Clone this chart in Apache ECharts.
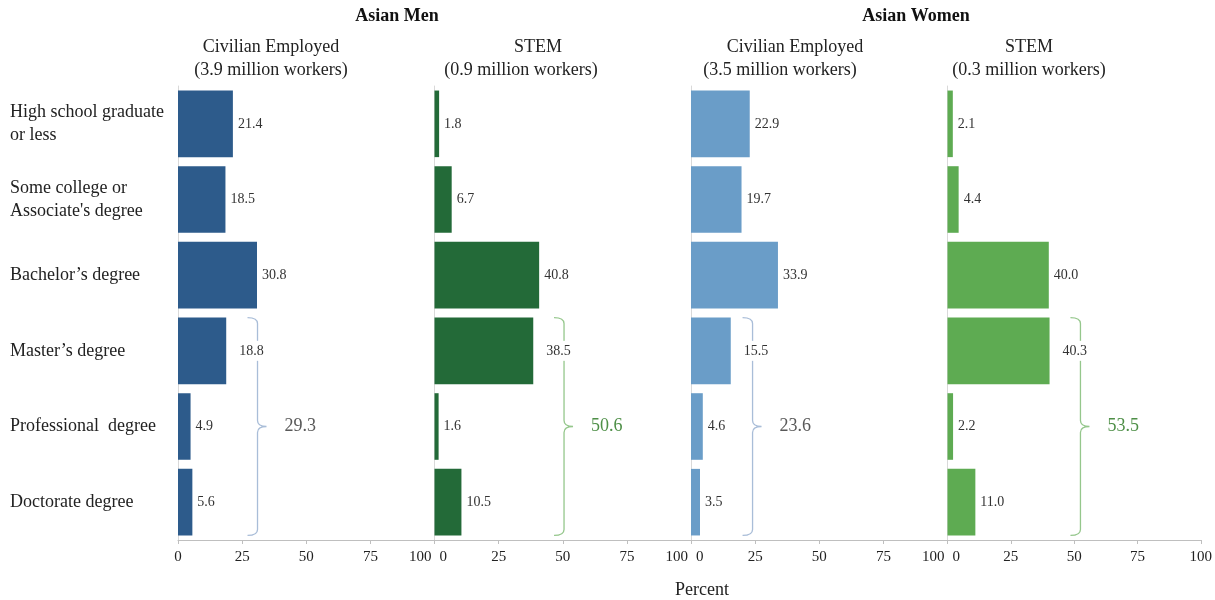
<!DOCTYPE html>
<html><head><meta charset="utf-8">
<script src="https://cdn.jsdelivr.net/npm/echarts@6/dist/echarts.min.js"></script>
<style>html,body{margin:0;padding:0;background:#fff}#c{width:1215px;height:600px}</style>
</head><body><div id="c"></div>
<script>
const categories = ["High school graduate\nor less", "Some college or\nAssociate's degree", "Bachelor’s degree", "Master’s degree", "Professional  degree", "Doctorate degree"];
const menCivilian = [21.4, 18.5, 30.8, 18.8, 4.9, 5.6];
const menStem = [1.8, 6.7, 40.8, 38.5, 1.6, 10.5];
const womenCivilian = [22.9, 19.7, 33.9, 15.5, 4.6, 3.5];
const womenStem = [2.1, 4.4, 40.0, 40.3, 2.2, 11.0];
const panelTitleLine1 = ["Civilian Employed", "STEM", "Civilian Employed", "STEM"];
const panelTitleLine2 = ["(3.9 million workers)", "(0.9 million workers)", "(3.5 million workers)", "(0.3 million workers)"];
const groupTitles = ["Asian Men", "Asian Women"];
const advancedSums = [29.3, 50.6, 23.6, 53.5];
const bracePositions = [31, 50.5, 24, 52.5];
const xTicks = [0, 25, 50, 75, 100];

(function () {
const series4 = [menCivilian, menStem, womenCivilian, womenStem];
const barColors = ['#2D5B8B', '#236A38', '#6A9DC8', '#5EAB52'];
const braceColors = ['#A9BDD8', '#95C78C', '#A9BDD8', '#95C78C'];
const sumColors = ['#595959', '#4E8F47', '#595959', '#4E8F47'];
const serif = '"Liberation Serif", "Times New Roman", serif';

const left0 = 178, pw = 256.5, gTop = 86, gh = 454;
const grids = [], xAxes = [], yAxes = [], series = [], titles = [];
for (let i = 0; i < 4; i++) {
  grids.push({left: left0 + i * pw, top: gTop, width: pw, height: gh});
  xAxes.push({
    type: 'value', gridIndex: i, min: xTicks[0], max: xTicks[xTicks.length - 1], interval: 25,
    axisLine: {show: true, lineStyle: {color: '#BFBFBF', width: 1}},
    axisTick: {show: true, length: 4, lineStyle: {color: '#BFBFBF'}},
    splitLine: {show: false},
    axisLabel: {fontFamily: serif, fontSize: 15, color: '#222', margin: 10,
      alignMinLabel: i === 0 ? 'center' : 'left', alignMaxLabel: i === 3 ? 'center' : 'right',
      formatter: v => {
        if (v === xTicks[0] && i > 0) return '{l|' + v + '}';
        if (v === xTicks[xTicks.length - 1] && i < 3) return '{r|' + v + '}';
        return String(v);
      },
      rich: {
        l: {fontFamily: serif, fontSize: 15, color: '#222', padding: [0, 0, 0, 5]},
        r: {fontFamily: serif, fontSize: 15, color: '#222', padding: [0, 3, 0, 0]}
      }}
  });
  yAxes.push({
    type: 'category', gridIndex: i, data: categories, inverse: true,
    axisLine: {show: true, lineStyle: {color: '#D9D9D9', width: 1}},
    axisTick: {show: false},
    axisLabel: i === 0 ? {show: true, fontFamily: serif, fontSize: 18, color: '#222', align: 'left', margin: 168, lineHeight: 23} : {show: false}
  });
  const vals = series4[i];
  series.push({
    type: 'bar', xAxisIndex: i, yAxisIndex: i, z: 3,
    barCategoryGap: '12%',
    itemStyle: {color: barColors[i]},
    data: vals.map((v, k) => ({
      value: v,
      label: k === 3 ? {offset: [8, 0], backgroundColor: '#fff', padding: [3, 0, 3, 0]} : {}
    })),
    label: {show: true, position: 'right', distance: 5, fontFamily: serif, fontSize: 14, color: '#333',
      formatter: p => p.value.toFixed(1)}
  });
  series.push({
    type: 'custom', xAxisIndex: i, yAxisIndex: i, z: 2,
    data: [[bracePositions[i], advancedSums[i]]],
    renderItem: (params, api) => {
      const x = api.coord([api.value(0), 3])[0];
      const bandH = api.size([0, 1])[1];
      const barH = bandH * 0.88;
      const yTop = api.coord([0, 3])[1] - barH / 2;
      const yBot = api.coord([0, 5])[1] + barH / 2;
      const yMid = (yTop + yBot) / 2;
      const r = 6;
      const path = `M${x - 10},${yTop} Q${x},${yTop} ${x},${yTop + r} L${x},${yMid - r} Q${x},${yMid} ${x + 9},${yMid} ` +
        `M${x + 9},${yMid} Q${x},${yMid} ${x},${yMid + r} L${x},${yBot - r} Q${x},${yBot} ${x - 10},${yBot}`;
      return {
        type: 'group', children: [
          {type: 'path', shape: {pathData: path}, style: {fill: null, stroke: braceColors[i], lineWidth: 1.3}},
          {type: 'text', x: x + 27, y: yMid, style: {text: api.value(1).toFixed(1), fontFamily: serif, fontSize: 18,
            fill: sumColors[i], verticalAlign: 'middle', align: 'left'}}
        ]
      };
    }
  });
}
const line1Centers = [266, 533, 790, 1024];
const line2Centers = [266, 516, 775, 1024];
const sub = {fontFamily: serif, fontSize: 18, fontWeight: 'normal', color: '#222'};
for (let i = 0; i < 4; i++) {
  titles.push({text: panelTitleLine1[i], left: line1Centers[i], top: 33, textAlign: 'center', textStyle: sub});
  titles.push({text: panelTitleLine2[i], left: line2Centers[i], top: 56, textAlign: 'center', textStyle: sub});
}
titles.push({text: groupTitles[0], left: 392, top: 2, textAlign: 'center', textStyle: {fontFamily: serif, fontSize: 18, fontWeight: 'bold', color: '#111'}});
titles.push({text: groupTitles[1], left: 911, top: 2, textAlign: 'center', textStyle: {fontFamily: serif, fontSize: 18, fontWeight: 'bold', color: '#111'}});
titles.push({text: 'Percent', left: 697, top: 576, textAlign: 'center', textStyle: {fontFamily: serif, fontSize: 18, fontWeight: 'normal', color: '#222'}});

const chart = echarts.init(document.getElementById('c'), null, {renderer: 'canvas'});
chart.setOption({
  animation: false, backgroundColor: '#fff',
  title: titles, grid: grids, xAxis: xAxes, yAxis: yAxes, series: series
});
})();
</script></body></html>
